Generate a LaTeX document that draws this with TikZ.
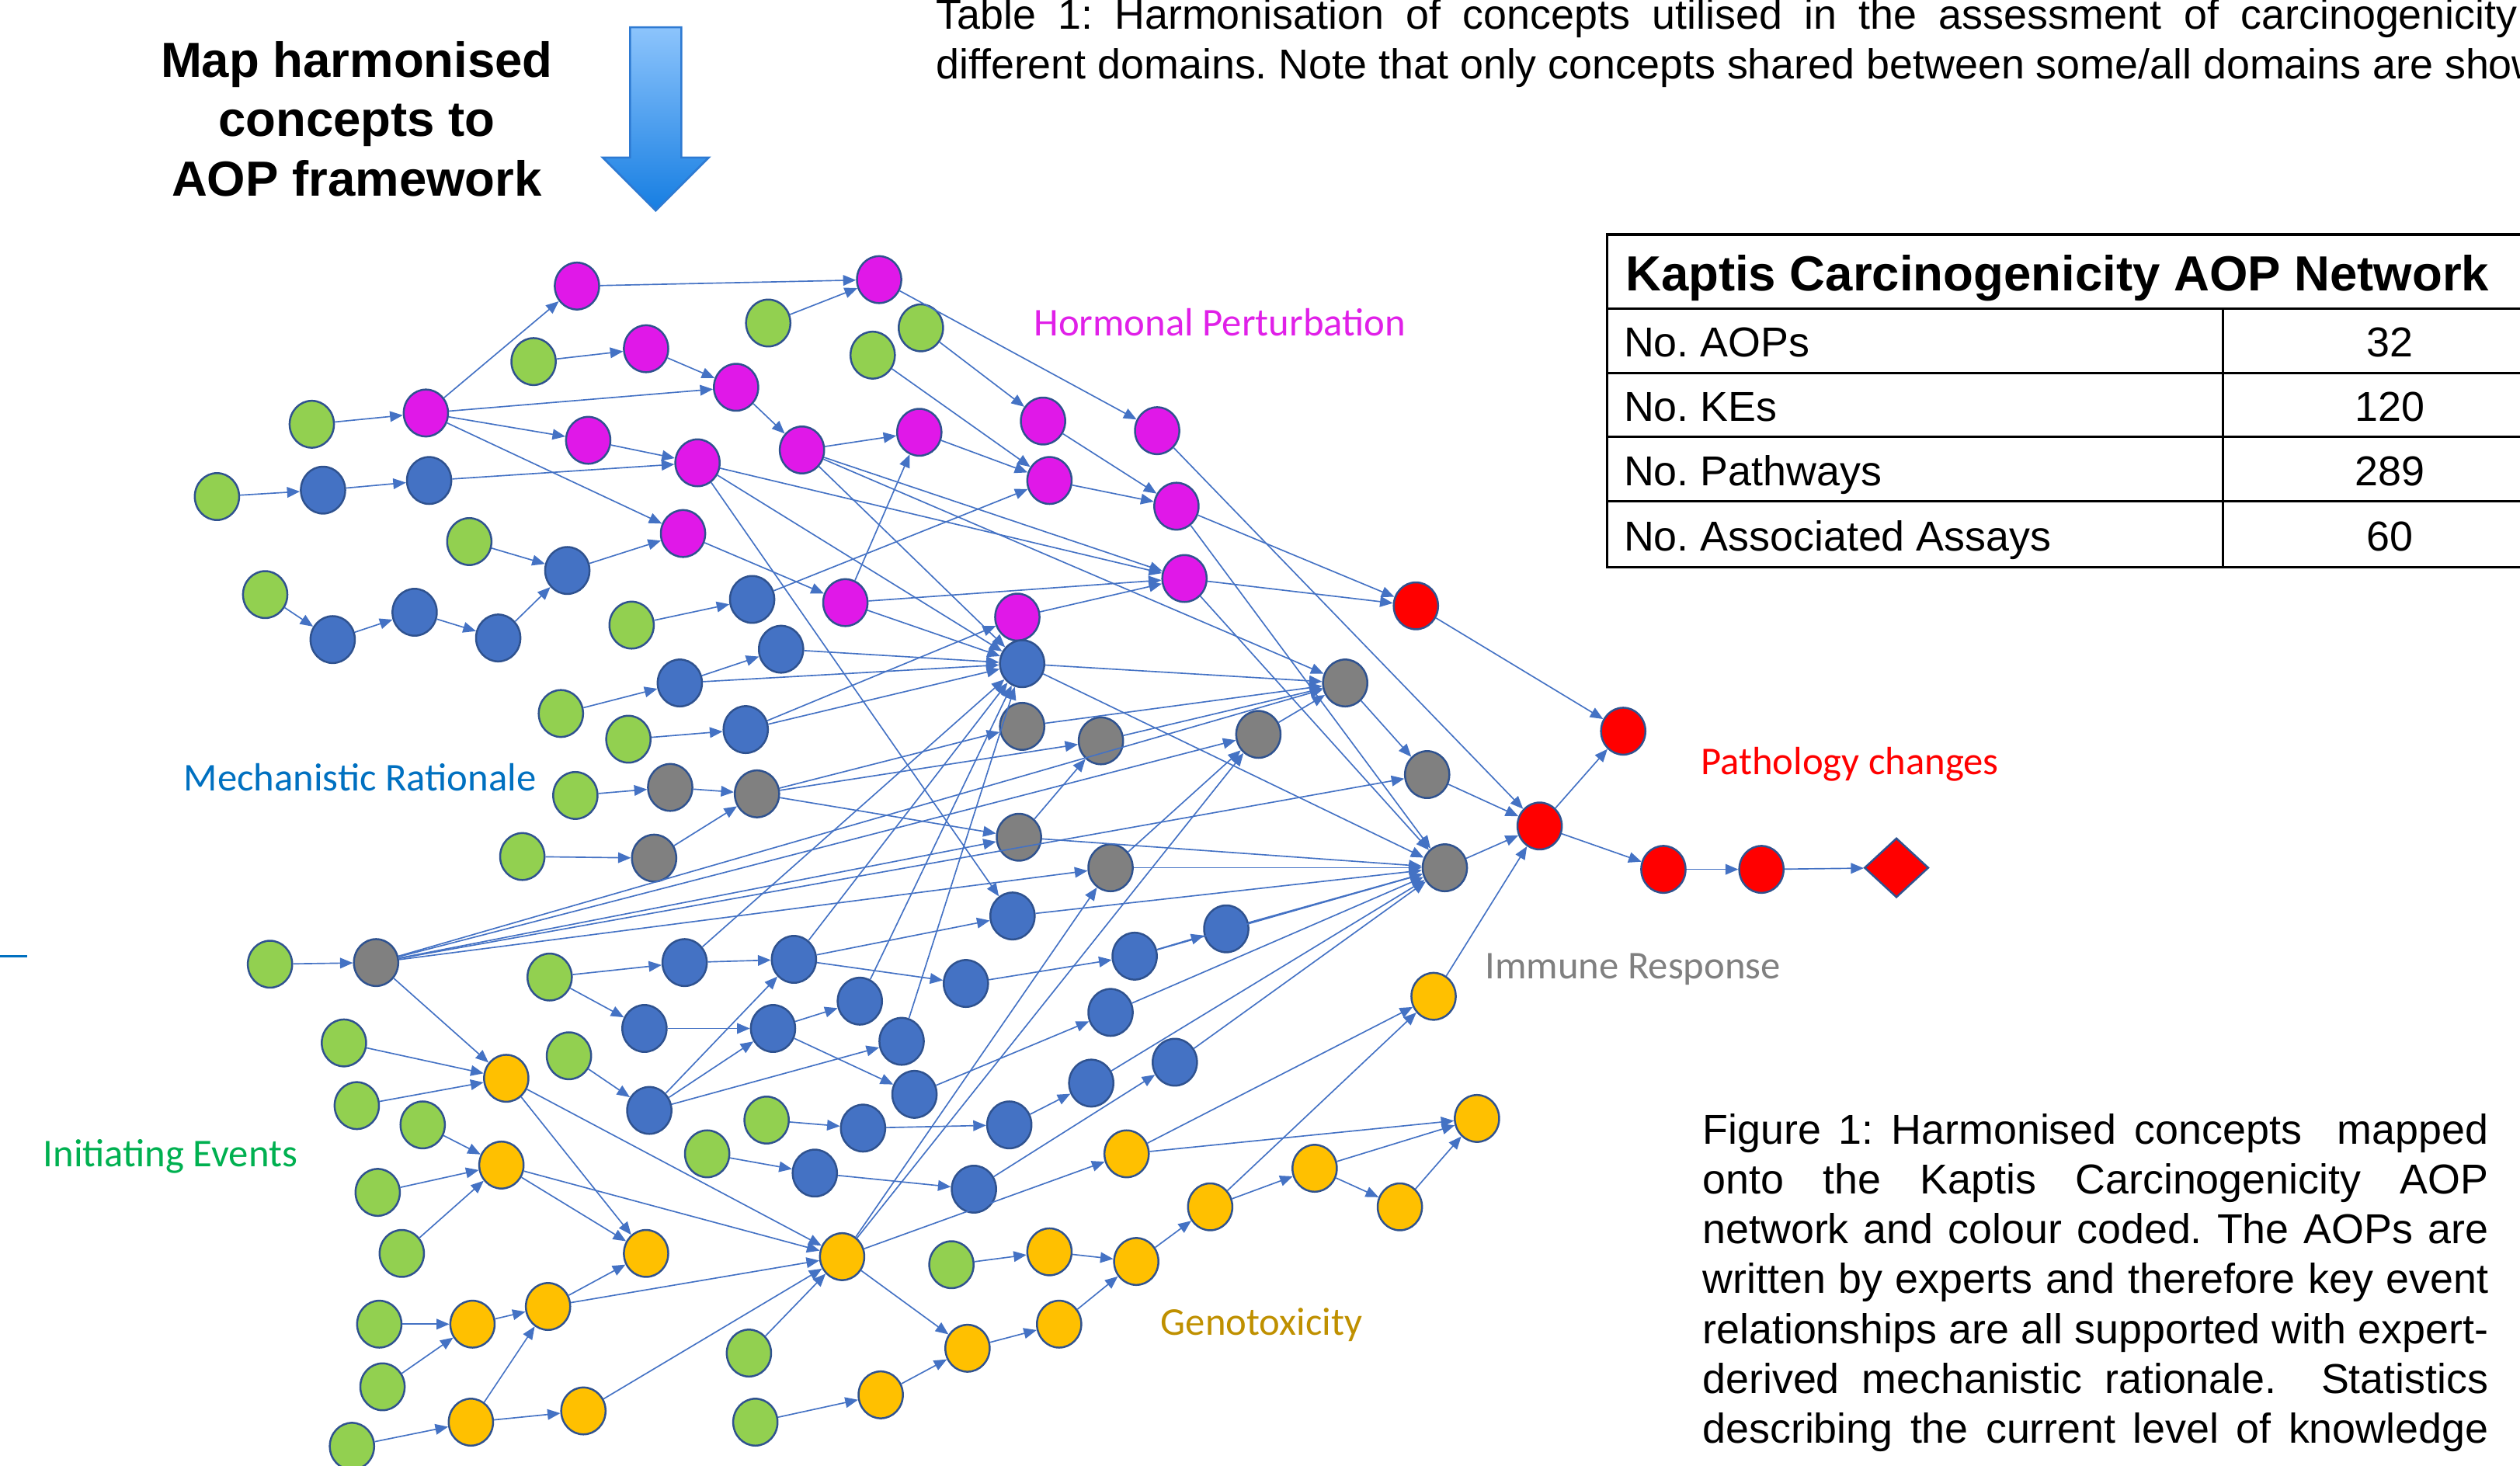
\documentclass[tikz,border=0pt]{standalone}
\usepackage{fontspec}
\setmainfont{Liberation Sans}
\newfontfamily\calibri{Carlito}
\usetikzlibrary{shapes.geometric,arrows.meta}
\frenchspacing
\definecolor{nmag}{RGB}{224,24,232}
\definecolor{ngreen}{RGB}{146,208,80}
\definecolor{nblue}{RGB}{68,114,196}
\definecolor{ngray}{RGB}{128,128,128}
\definecolor{nyellow}{RGB}{255,192,0}
\definecolor{nred}{RGB}{255,0,0}
\definecolor{nborder}{RGB}{47,82,143}
\definecolor{nedge}{RGB}{68,114,196}
\definecolor{lblmag}{RGB}{224,32,232}
\definecolor{lblblue}{RGB}{0,112,192}
\definecolor{lblred}{RGB}{255,0,0}
\definecolor{lblgray}{RGB}{128,128,128}
\definecolor{lblgreen}{RGB}{0,176,80}
\definecolor{lblgold}{RGB}{191,144,0}
\definecolor{arrtop}{RGB}{140,196,252}
\definecolor{arrbot}{RGB}{22,126,226}
\definecolor{arredge}{RGB}{46,122,210}
\tikzset{
  ke/.style={ellipse, draw=nborder, line width=0.6pt, minimum width=13.8pt, minimum height=14.6pt, inner sep=0pt},
  gn/.style={ke, fill=ngreen},
  mg/.style={ke, fill=nmag},
  bl/.style={ke, fill=nblue},
  gr/.style={ke, fill=ngray},
  yl/.style={ke, fill=nyellow},
  rd/.style={ke, fill=nred},
  rel/.style={draw=nedge, line width=0.4pt, -{Triangle[length=4pt,width=3.3pt]}},
  domlabel/.style={anchor=base, inner sep=0pt, font=\calibri\fontsize{12.25}{14}\selectfont},
  captxt/.style={anchor=base west, inner sep=0pt, font=\fontsize{13}{15}\selectfont},
  bigtxt/.style={anchor=base, inner sep=0pt, font=\bfseries\fontsize{15.35}{18}\selectfont},
}
\begin{document}
\begin{tikzpicture}[x=0.5pt,y=-0.5pt]
\useasboundingbox (0,0) rectangle (1568,912);
\clip (0,0) rectangle (1568,912);

% heading and arrow
\node[bigtxt] (h1) at (222,48) {Map harmonised};
\node[bigtxt] (h2) at (222,85) {concepts to};
\node[bigtxt] (h3) at (222,122) {AOP framework};
\shade[top color=arrtop, bottom color=arrbot, draw=arredge, line width=0.6pt]
  (392,17) -- (424,17) -- (424,98) -- (441,98) -- (408,131) -- (375,98) -- (392,98) -- cycle;

% top caption
\node[captxt] (tc1) at (582,18) {\makebox[492pt][s]{Table 1: Harmonisation of concepts utilised in the assessment of carcinogenicity}};
\node[captxt] (tc2) at (582,49) {different domains. Note that only concepts shared between some/all domains are shown};

% table
\draw[line width=0.9pt] (1000,146) rectangle (1620,353);
\draw[line width=0.7pt] (1000,192) -- (1620,192) (1000,232) -- (1620,232) (1000,272) -- (1620,272) (1000,312) -- (1620,312);
\draw[line width=0.7pt] (1383,192) -- (1383,353);
\node[captxt, font=\bfseries\fontsize{15.35}{18}\selectfont] (tt) at (1011,181) {Kaptis Carcinogenicity AOP Network};
\node[captxt] (r1) at (1010,222) {No. AOPs};
\node[captxt] (r2) at (1010,262) {No. KEs};
\node[captxt] (r3) at (1010,302) {No. Pathways};
\node[captxt] (r4) at (1010,343) {No. Associated Assays};
\node[captxt, anchor=base] (v1) at (1487,222) {32};
\node[captxt, anchor=base] (v2) at (1487,262) {120};
\node[captxt, anchor=base] (v3) at (1487,302) {289};
\node[captxt, anchor=base] (v4) at (1487,343) {60};

% figure caption
\node[captxt] (fc1) at (1059,712) {\makebox[244.5pt][s]{Figure 1: Harmonised concepts \ mapped}};
\node[captxt] (fc2) at (1059,743) {\makebox[244.5pt][s]{onto the Kaptis Carcinogenicity AOP}};
\node[captxt] (fc3) at (1059,774) {\makebox[244.5pt][s]{network and colour coded. The AOPs are}};
\node[captxt] (fc4) at (1059,805) {\makebox[244.5pt][s]{written by experts and therefore key event}};
\node[captxt] (fc5) at (1059,836) {\makebox[244.5pt][s]{relationships are all supported with expert-}};
\node[captxt] (fc6) at (1059,867) {\makebox[244.5pt][s]{derived mechanistic rationale. \ Statistics}};
\node[captxt] (fc7) at (1059,898) {\makebox[244.5pt][s]{describing the current level of knowledge}};

% domain labels
\node[domlabel, text=lblmag] (lhp) at (759,209) {Hormonal Perturbation};
\node[domlabel, text=lblblue] (lmr) at (224,492) {Mechanistic Rationale};
\node[domlabel, text=lblred] (lpc) at (1151,482) {Pathology changes};
\node[domlabel, text=lblgray] (lir) at (1016,609) {Immune Response};
\node[domlabel, text=lblgreen] (lie) at (106,726) {Initiating Events};
\node[domlabel, text=lblgold] (lgt) at (785,831) {Genotoxicity};
\draw[lblblue, line width=0.6pt] (0,595) -- (17,595);

% magenta
\node[mg] (M1) at (359,178) {};
\node[mg] (M2) at (547,174) {};
\node[mg] (M3) at (402,217) {};
\node[mg] (M4) at (458,241) {};
\node[mg] (M5) at (265,257) {};
\node[mg] (M6) at (366,274) {};
\node[mg] (M7) at (434,288) {};
\node[mg] (M8) at (499,280) {};
\node[mg] (M9) at (572,269) {};
\node[mg] (M10) at (649,262) {};
\node[mg] (M11) at (720,268) {};
\node[mg] (M12) at (653,299) {};
\node[mg] (M13) at (732,315) {};
\node[mg] (M14) at (425,332) {};
\node[mg] (M15) at (526,375) {};
\node[mg] (M16) at (633,384) {};
\node[mg] (M17) at (737,360) {};
% green
\node[gn] (G1) at (478,201) {};
\node[gn] (G2) at (573,204) {};
\node[gn] (G3) at (543,221) {};
\node[gn] (G4) at (332,225) {};
\node[gn] (G5) at (194,264) {};
\node[gn] (G6) at (135,309) {};
\node[gn] (G7) at (292,337) {};
\node[gn] (G8) at (165,370) {};
\node[gn] (G9) at (393,389) {};
\node[gn] (G10) at (349,444) {};
\node[gn] (G11) at (391,460) {};
\node[gn] (G12) at (358,495) {};
\node[gn] (G13) at (325,533) {};
\node[gn] (G14) at (168,600) {};
\node[gn] (G15) at (342,608) {};
\node[gn] (G16) at (214,649) {};
\node[gn] (G17) at (354,657) {};
\node[gn] (G18) at (222,688) {};
\node[gn] (G19) at (263,700) {};
\node[gn] (G20) at (477,697) {};
\node[gn] (G21) at (440,718) {};
\node[gn] (G22) at (235,742) {};
\node[gn] (G23) at (250,780) {};
\node[gn] (G24) at (592,787) {};
\node[gn] (G25) at (236,824) {};
\node[gn] (G26) at (238,863) {};
\node[gn] (G27) at (466,842) {};
\node[gn] (G28) at (219,900) {};
\node[gn] (G29) at (470,885) {};
% blue
\node[bl] (B1) at (201,305) {};
\node[bl] (B2) at (267,299) {};
\node[bl] (B3) at (353,355) {};
\node[bl] (B4) at (207,398) {};
\node[bl] (B5) at (258,381) {};
\node[bl] (B6) at (310,397) {};
\node[bl] (B7) at (468,373) {};
\node[bl] (B8) at (486,404) {};
\node[bl] (B9) at (423,425) {};
\node[bl] (B10) at (464,454) {};
\node[bl] (B11) at (636,413) {};
\node[bl] (B12) at (630,570) {};
\node[bl] (B13) at (426,599) {};
\node[bl] (B14) at (494,597) {};
\node[bl] (B15) at (601,612) {};
\node[bl] (B16) at (535,623) {};
\node[bl] (B17) at (401,640) {};
\node[bl] (B18) at (481,640) {};
\node[bl] (B19) at (561,648) {};
\node[bl] (B20) at (706,595) {};
\node[bl] (B21) at (763,578) {};
\node[bl] (B22) at (691,630) {};
\node[bl] (B23) at (404,691) {};
\node[bl] (B24) at (569,681) {};
\node[bl] (B25) at (537,702) {};
\node[bl] (B26) at (628,700) {};
\node[bl] (B27) at (679,674) {};
\node[bl] (B28) at (731,661) {};
\node[bl] (B29) at (507,730) {};
\node[bl] (B30) at (606,740) {};
% gray
\node[gr] (Gr1) at (636,452) {};
\node[gr] (Gr2) at (685,461) {};
\node[gr] (Gr3) at (417,490) {};
\node[gr] (Gr4) at (471,494) {};
\node[gr] (Gr5) at (634,521) {};
\node[gr] (Gr6) at (691,540) {};
\node[gr] (Gr7) at (407,534) {};
\node[gr] (Gr8) at (234,599) {};
\node[gr] (Gr9) at (783,457) {};
\node[gr] (Gr10) at (837,425) {};
\node[gr] (Gr11) at (888,482) {};
\node[gr] (Gr12) at (899,540) {};
% yellow
\node[yl] (Y1) at (315,671) {};
\node[yl] (Y2) at (312,725) {};
\node[yl] (Y3) at (402,780) {};
\node[yl] (Y4) at (294,824) {};
\node[yl] (Y5) at (341,813) {};
\node[yl] (Y6) at (293,885) {};
\node[yl] (Y7) at (363,878) {};
\node[yl] (Y8) at (524,782) {};
\node[yl] (Y9) at (548,868) {};
\node[yl] (Y10) at (602,839) {};
\node[yl] (Y11) at (659,824) {};
\node[yl] (Y12) at (653,779) {};
\node[yl] (Y13) at (707,785) {};
\node[yl] (Y14) at (753,751) {};
\node[yl] (Y15) at (701,718) {};
\node[yl] (Y16) at (818,727) {};
\node[yl] (Y17) at (871,751) {};
\node[yl] (Y18) at (919,696) {};
\node[yl] (Y19) at (892,620) {};
% red
\node[rd] (R1) at (881,377) {};
\node[rd] (R2) at (1010,455) {};
\node[rd] (R3) at (958,514) {};
\node[rd] (R4) at (1035,541) {};
\node[rd] (R5) at (1096,541) {};
\node[diamond, draw=nborder, fill=nred, line width=0.6pt, minimum width=20pt, minimum height=18.5pt, inner sep=0pt] (D) at (1180,540) {};

% edges
\foreach \a/\b in {G5/M5, M5/M1, M1/M2, G1/M2, G4/M3, M3/M4, M5/M4, M5/M6, M6/M7, M5/M14,
  M4/M8, M8/M9, M9/M12, G2/M10, G3/M12, M2/M11, M10/M13, M12/M13, M14/M15, M15/M9,
  M15/M17, M15/B11, M16/M17, M7/M17, M7/B11, M7/B12, M8/M17, M8/B11, M8/Gr10,
  M11/R3, M13/R1, M17/R1, M13/Gr12, M17/Gr12,
  G6/B1, B1/B2, B2/M7, G7/B3, B3/M14, G8/B4, B4/B5, B5/B6, B6/B3, G9/B7, B7/M12,
  G10/B9, B9/B8, B8/B11, B9/B11, G11/B10, B10/B11, B10/M16, G12/Gr3, Gr3/Gr4,
  G13/Gr7, Gr7/Gr4, Gr4/Gr1, Gr4/Gr2, Gr4/Gr5, Gr5/Gr2, Gr1/Gr10, Gr2/Gr10,
  Gr5/Gr12, Gr6/Gr12, Gr6/Gr9, Gr9/Gr10, Gr10/Gr11, Gr11/R3, Gr12/R3, R3/R2,
  R1/R2, R3/R4, R4/R5, R5/D, Y19/R3, B11/Gr10, B11/Gr12, B12/Gr12,
  G14/Gr8, Gr8/Gr10, Gr8/Gr9, Gr8/Gr11, Gr8/Gr5, Gr8/Gr6, Gr8/Y1,
  G15/B13, G15/B17, B13/B14, B13/B11, B14/B11, B14/B12, B14/B15, B15/B20,
  B20/B21, B16/B11, B17/B18, B18/B16, B18/B24, B19/B11, G17/B23, B23/B14,
  B23/B18, B23/B19, G20/B25, B25/B26, B26/B27, B27/Gr12, B24/B22, B22/Gr12,
  B20/Gr12, B21/Gr12, B28/Gr12, B30/B28, B29/B30, G21/B29,
  G16/Y1, G18/Y1, Y1/Y3, Y1/Y8, G19/Y2, G22/Y2, G23/Y2, Y2/Y3, Y2/Y8,
  G25/Y4, G26/Y4, Y4/Y5, Y5/Y3, Y5/Y8, G28/Y6, Y6/Y5, Y6/Y7, Y7/Y8, G27/Y8,
  Y8/Y15, Y8/Y10, Y8/Gr6, Y8/Gr9, G29/Y9, Y9/Y10, Y10/Y11, Y11/Y13, G24/Y12,
  Y12/Y13, Y13/Y14, Y14/Y16, Y14/Y19, Y15/Y19, Y15/Y18, Y16/Y18, Y16/Y17, Y17/Y18}
  \draw[rel] (\a) -- (\b);
\end{tikzpicture}
\end{document}
